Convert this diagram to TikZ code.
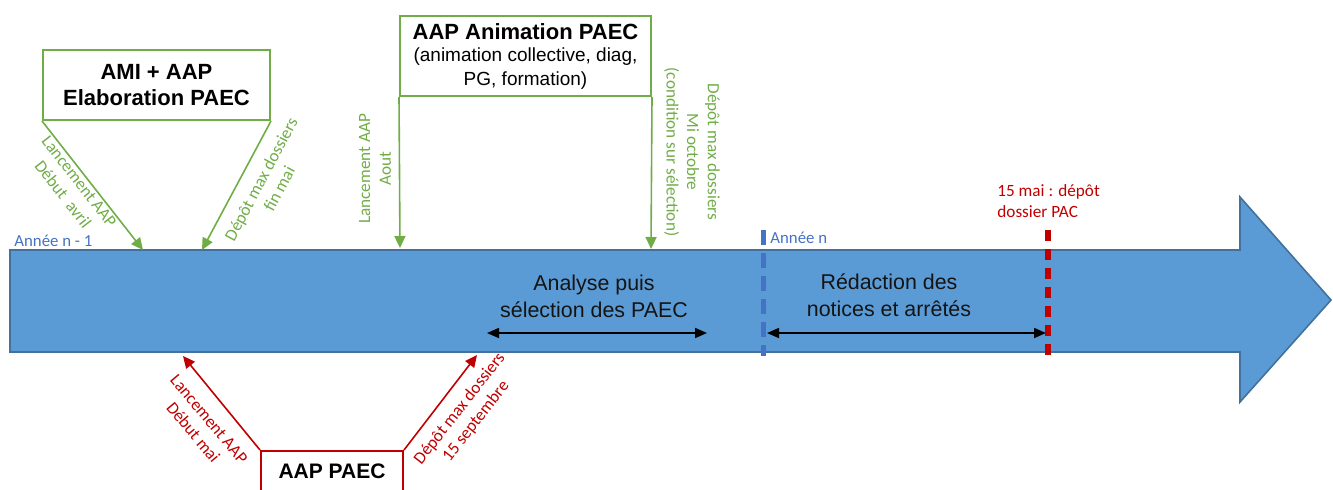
\documentclass[tikz,border=0pt]{standalone}
\usepackage{fontspec}
\setmainfont{Liberation Sans}
\newfontfamily\carl{Carlito}
\usetikzlibrary{arrows.meta}
\definecolor{tlblue}{HTML}{5B9BD5}
\definecolor{tlborder}{HTML}{41719C}
\definecolor{mblue}{HTML}{4472C4}
\definecolor{agreen}{HTML}{70AD47}
\definecolor{ared}{HTML}{C00000}
\begin{document}
\begin{tikzpicture}[x=0.5pt,y=-0.5pt,
 greenbox/.style={draw=agreen,line width=1pt,fill=white,align=center,inner sep=0pt},
 redbox/.style={draw=ared,line width=1pt,fill=white,align=center,inner sep=0pt},
 garrow/.style={draw=agreen,line width=0.8pt,-{Triangle[length=6pt,width=5.5pt]}},
 rarrow/.style={draw=ared,line width=0.8pt,-{Triangle[length=6pt,width=5.5pt]}},
 glabel/.style={text=agreen,font=\carl\fontsize{8.6}{10.3}\selectfont,align=center,inner sep=0pt},
 rlabel/.style={text=ared,font=\carl\fontsize{8.6}{10.3}\selectfont,align=center,inner sep=0pt},
 blabel/.style={text=mblue,font=\carl\fontsize{8.4}{10}\selectfont,inner sep=0pt},
 dbl/.style={draw=black,line width=0.9pt,{Triangle[length=6pt,width=5pt]}-{Triangle[length=6pt,width=5pt]}},
 phase/.style={font=\fontsize{10.7}{13.5}\selectfont,align=center,text=black!92,inner sep=0pt}
]
\useasboundingbox (0,0) rectangle (1333,489);
% timeline arrow
\path[fill=tlblue,draw=tlborder,line width=0.8pt] (10,250) -- (1240,250) -- (1240,197) -- (1331,300) -- (1240,402) -- (1240,352) -- (10,352) -- cycle;

% markers
\coordinate (bn1) at (763,230);
\coordinate (bn2) at (763,356);
\coordinate (rd1) at (1048,230);
\coordinate (rd2) at (1048,358);
\draw[mblue,line width=2.5pt,dash pattern=on 7.5pt off 4pt] (bn1) -- (bn2);
\draw[ared,line width=3pt,dash pattern=on 5.5pt off 4pt] (rd1) -- (rd2);

\node[blabel,anchor=west] (an1) at (14,241) {Année n - 1};
\node[blabel,anchor=west] (an) at (770,238) {Année n};
\node[rlabel,align=left,anchor=west] (mai) at (997,201) {15 mai : dépôt\\dossier PAC};

% phases
\node[phase] (analyse) at (594,296) {Analyse puis\\sélection des PAEC};
\coordinate (a1) at (487,333);
\coordinate (a2) at (707,333);
\draw[dbl] (a1) -- (a2);
\node[phase] (redac) at (889,295) {Rédaction des\\notices et arrêtés};
\coordinate (b1) at (767,333);
\coordinate (b2) at (1046,333);
\draw[dbl] (b1) -- (b2);

% AMI + AAP box
\node[greenbox,minimum width=113.5pt,minimum height=35pt,font=\bfseries\fontsize{11}{12.8}\selectfont] (ami) at (156.5,85) {AMI + AAP\\Elaboration PAEC};
\coordinate (g1) at (143,250);
\coordinate (g2) at (202,250);
\draw[garrow] (ami.south west) -- (g1);
\draw[garrow] (ami.south east) -- (g2);
\node[glabel,rotate=-52] (l1) at (71,188) {Lancement AAP\\Début \ avril};
\node[glabel,rotate=62] (l2) at (270,184) {Dépôt max dossiers\\fin mai};

% AAP Animation box
\node[greenbox,minimum width=125.5pt,minimum height=40pt] (anim) at (525.5,56)
 {{\bfseries\fontsize{11}{13}\selectfont AAP Animation PAEC}\\[-1pt]
  {\fontsize{9.5}{12.5}\selectfont (animation collective, diag,}\\
  {\fontsize{9.5}{12.5}\selectfont PG, formation)}};
\coordinate (g3) at (400,248);
\coordinate (g4) at (651,249);
\draw[garrow] (anim.south west) -- (g3);
\draw[garrow] (anim.south east) -- (g4);
\node[glabel,rotate=90] (l3) at (375,169) {Lancement AAP\\Aout};
\node[glabel,rotate=-90] (l4) at (692,152) {Dépôt max dossiers\\Mi octobre\\(condition sur sélection)};

% AAP PAEC box
\node[redbox,minimum width=71pt,minimum height=20pt,font=\bfseries\fontsize{10.5}{12.5}\selectfont] (paec) at (332,471) {AAP PAEC};
\coordinate (r1) at (183,356);
\coordinate (r2) at (477,355);
\draw[rarrow] (paec.north west) -- (r1);
\draw[rarrow] (paec.north east) -- (r2);
\node[rlabel,rotate=-50] (l5) at (201,426) {Lancement AAP\\Début mai};
\node[rlabel,rotate=52] (l6) at (468,415) {Dépôt max dossiers\\15 septembre};
\end{tikzpicture}
\end{document}
